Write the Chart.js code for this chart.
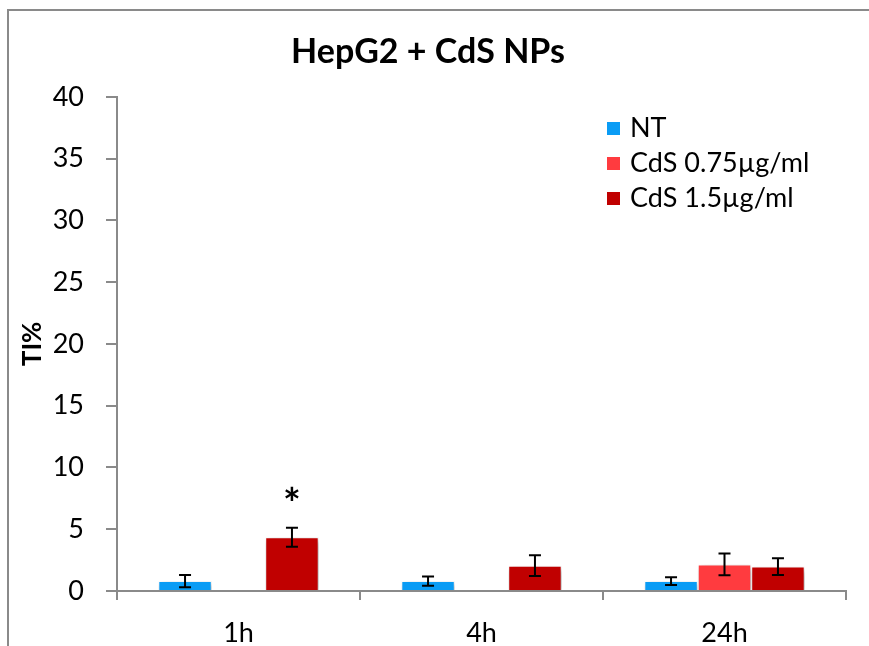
<!DOCTYPE html>
<html>
<head>
<meta charset="utf-8">
<title>HepG2 + CdS NPs</title>
<script src="https://cdn.jsdelivr.net/npm/chart.js@4.4.0/dist/chart.umd.min.js"></script>
<style>
  html, body { margin: 0; padding: 0; background: #fff; }
  canvas { display: block; }
</style>
</head>
<body>
<canvas id="tiChart" width="869" height="646"></canvas>
<script>
/* HepG2 + CdS NPs : TI% */

const categories = ['1h', '4h', '24h'];
const yTicks = [0, 5, 10, 15, 20, 25, 30, 35, 40];

const ntValues = [0.8, 0.8, 0.8];
const ntErrors = [0.5, 0.37, 0.32];

const cds075Values = [null, null, 2.15];
const cds075Errors = [null, null, 0.88];

const cds15Values = [4.35, 2.05, 1.98];
const cds15Errors = [0.77, 0.84, 0.68];

const seriesLabels = ['NT', 'CdS 0.75µg/ml', 'CdS 1.5µg/ml'];
const seriesColors = ['#0A9CF5', '#FF3B3F', '#C00000'];
const errorLists = [ntErrors, cds075Errors, cds15Errors];

// significance marks: [dataset index, category index]
const starMarks = [[2, 0]];

const FONT = 'Lato, "Open Sans", sans-serif';

const ctx = document.getElementById('tiChart');

// grey frame round the picture (top and left only are visible)
const frame = {
  id: 'frame',
  beforeDraw(chart) {
    const c = chart.ctx;
    c.save();
    c.strokeStyle = '#8a8a8a';
    c.lineWidth = 2;
    c.beginPath();
    c.moveTo(8, chart.height);
    c.lineTo(8, 10);
    c.lineTo(chart.width, 10);
    c.stroke();
    c.restore();
  }
};

// Excel style soft shadow under the bars
const barShadow = {
  id: 'barShadow',
  beforeDatasetsDraw(chart) {
    const c = chart.ctx;
    c.save();
    c.shadowColor = 'rgba(0, 0, 0, 0.35)';
    c.shadowBlur = 6;
    c.shadowOffsetX = 2;
    c.shadowOffsetY = 3;
  },
  afterDatasetsDraw(chart) {
    chart.ctx.restore();
  }
};

const errorBars = {
  id: 'errorBars',
  afterDatasetsDraw(chart) {
    const { ctx, scales: { y } } = chart;
    ctx.save();
    ctx.strokeStyle = '#000';
    ctx.lineWidth = 2;
    chart.data.datasets.forEach((dataset, di) => {
      const meta = chart.getDatasetMeta(di);
      dataset.data.forEach((value, index) => {
        const err = errorLists[di][index];
        if (value === null || err === null) return;
        const x = meta.data[index].x;
        const top = y.getPixelForValue(value + err);
        const bottom = y.getPixelForValue(value - err);
        ctx.beginPath();
        ctx.moveTo(x, top);
        ctx.lineTo(x, bottom);
        ctx.moveTo(x - 6, top);
        ctx.lineTo(x + 6, top);
        ctx.moveTo(x - 6, bottom);
        ctx.lineTo(x + 6, bottom);
        ctx.stroke();
      });
    });

    ctx.font = 'bold 42px ' + FONT;
    ctx.fillStyle = '#000';
    ctx.textAlign = 'center';
    ctx.textBaseline = 'middle';
    starMarks.forEach(([di, index]) => {
      const x = chart.getDatasetMeta(di).data[index].x;
      const v = chart.data.datasets[di].data[index] + errorLists[di][index];
      ctx.fillText('*', x, y.getPixelForValue(v) - 22);
    });
    ctx.restore();
  }
};

// legend inside the plot, top right
const boxLegend = {
  id: 'boxLegend',
  afterDraw(chart) {
    const c = chart.ctx;
    c.save();
    c.font = '27px ' + FONT;
    c.textBaseline = 'middle';
    c.textAlign = 'left';
    chart.data.datasets.forEach((dataset, i) => {
      const yy = 128 + i * 35;
      c.fillStyle = dataset.backgroundColor;
      c.fillRect(607, yy - 6, 13, 13);
      c.fillStyle = '#000';
      c.fillText(dataset.label, 630, yy);
    });
    c.restore();
  }
};

new Chart(ctx, {
  type: 'bar',
  data: {
    labels: categories,
    datasets: [
      {
        label: seriesLabels[0],
        data: ntValues,
        backgroundColor: seriesColors[0],
        borderColor: '#fff',
        borderWidth: 1
      },
      {
        label: seriesLabels[1],
        data: cds075Values,
        backgroundColor: seriesColors[1],
        borderColor: '#fff',
        borderWidth: 1
      },
      {
        label: seriesLabels[2],
        data: cds15Values,
        backgroundColor: seriesColors[2],
        borderColor: '#fff',
        borderWidth: 1
      }
    ]
  },
  options: {
    responsive: false,
    animation: false,
    events: [],
    categoryPercentage: 0.66,
    barPercentage: 1,
    layout: {
      padding: { left: 10, right: 23, top: 0, bottom: 0 }
    },
    plugins: {
      legend: { display: false },
      tooltip: { enabled: false },
      title: {
        display: true,
        text: 'HepG2 + CdS NPs',
        color: '#000',
        font: { family: FONT, size: 34, weight: 'bold' },
        padding: { top: 32, bottom: 24 }
      }
    },
    scales: {
      x: {
        afterFit(scale) { scale.height = 55; },
        border: { color: '#8a8a8a', width: 2 },
        grid: {
          drawOnChartArea: false,
          drawTicks: true,
          tickLength: 9,
          color: '#8a8a8a',
          lineWidth: 2
        },
        ticks: {
          color: '#000',
          padding: 17,
          font: { family: FONT, size: 27 }
        }
      },
      y: {
        min: 0,
        max: 40,
        afterFit(scale) { scale.width = 107; },
        afterBuildTicks(scale) { scale.ticks = yTicks.map(v => ({ value: v })); },
        border: { color: '#8a8a8a', width: 2 },
        grid: {
          drawOnChartArea: false,
          drawTicks: true,
          tickLength: 11,
          color: '#8a8a8a',
          lineWidth: 2
        },
        ticks: {
          color: '#000',
          padding: 22,
          font: { family: FONT, size: 27 }
        },
        title: {
          display: true,
          text: 'TI%',
          color: '#000',
          font: { family: FONT, size: 26, weight: 'bold' },
          padding: { top: 7, bottom: 0 }
        }
      }
    }
  },
  plugins: [frame, barShadow, errorBars, boxLegend]
});
</script>
</body>
</html>
